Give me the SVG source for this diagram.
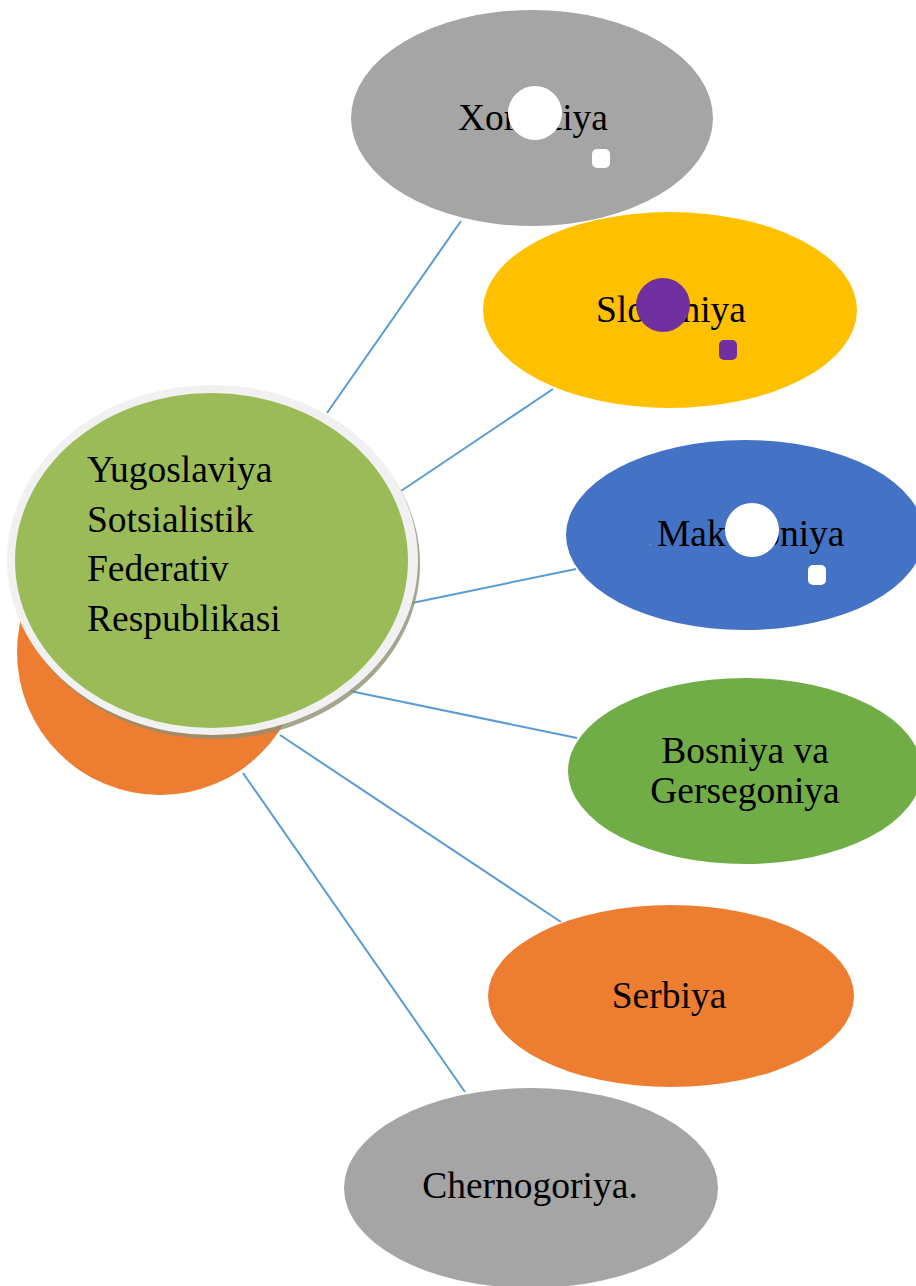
<svg xmlns="http://www.w3.org/2000/svg" width="916" height="1286" viewBox="0 0 916 1286">
<style>
.t{font-family:"Liberation Serif","Times New Roman",serif;font-size:37.5px;fill:#000}
.c{text-anchor:middle}
.ln{stroke:#5b9bd5;stroke-width:2;fill:none}
</style>
<rect width="916" height="1286" fill="#fff"/>
<g id="connectors">
<line class="ln" x1="327" y1="413" x2="461" y2="221"/>
<line class="ln" x1="401" y1="491" x2="553" y2="389"/>
<line class="ln" x1="412" y1="603" x2="576" y2="569"/>
<line class="ln" x1="350" y1="691" x2="577" y2="738"/>
<line class="ln" x1="280" y1="735" x2="561" y2="922"/>
<line class="ln" x1="243" y1="773" x2="465" y2="1092"/>
</g>
<g id="xorvatiya">
<ellipse cx="532" cy="118" rx="181" ry="108" fill="#a5a5a5"/>
<text class="t" x="458" y="130">Xorvatiya</text>
<circle cx="535" cy="113" r="27" fill="#fff"/>
<rect x="592" y="149" width="18" height="19" rx="5" fill="#fff"/>
</g>
<g id="sloveniya">
<ellipse cx="670" cy="310" rx="187" ry="98" fill="#ffc000"/>
<text class="t" x="596" y="322">Sloveniya</text>
<circle cx="663" cy="305" r="27" fill="#7030a0"/>
<rect x="719" y="340" width="18" height="20" rx="5" fill="#7030a0"/>
</g>
<g id="makedoniya">
<ellipse cx="745" cy="535" rx="179" ry="95" fill="#4472c4"/>
<text x="649" y="545" font-family="Liberation Serif, serif" font-size="10" fill="#8fa9d8">.</text>
<text class="t" x="657" y="546">Makedoniya</text>
<circle cx="752" cy="530" r="27" fill="#fff"/>
<rect x="808" y="565" width="18" height="20" rx="5" fill="#fff"/>
</g>
<g id="bosniya">
<ellipse cx="745" cy="771" rx="177" ry="93" fill="#70ad47"/>
<text class="t c" x="745" y="763">Bosniya va</text>
<text class="t c" x="745" y="803">Gersegoniya</text>
</g>
<g id="serbiya">
<ellipse cx="671" cy="996" rx="183" ry="91" fill="#ed7d31"/>
<text class="t c" x="669" y="1008">Serbiya</text>
</g>
<g id="chernogoriya">
<ellipse cx="531" cy="1188" rx="187" ry="100" fill="#a5a5a5"/>
<text class="t c" x="530" y="1198">Chernogoriya.</text>
</g>
<g id="yugoslaviya">
<circle cx="160" cy="652" r="143" fill="#ed7d31"/>
<ellipse cx="215" cy="564" rx="205" ry="175" fill="#8f8f74" opacity="0.8"/>
<ellipse cx="212.5" cy="560" rx="205.5" ry="175" fill="#f1f1f1"/>
<ellipse cx="211.5" cy="560.5" rx="196.5" ry="167.5" fill="#9bbb59"/>
<text class="t" x="87" y="482">Yugoslaviya</text>
<text class="t" x="87" y="532">Sotsialistik</text>
<text class="t" x="87" y="581">Federativ</text>
<text class="t" x="87" y="631">Respublikasi</text>
</g>
</svg>
